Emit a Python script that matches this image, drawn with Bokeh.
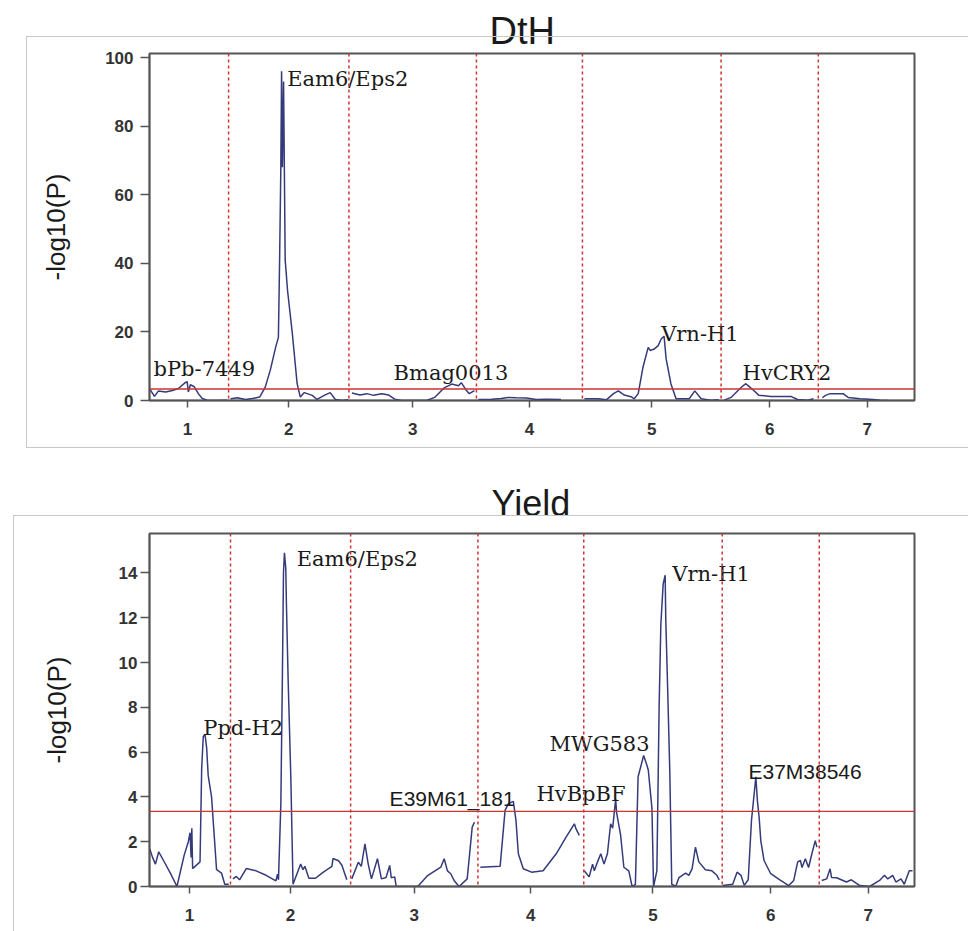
import numpy as np
from bokeh.plotting import figure
from bokeh.layouts import column
from bokeh.models import (Span, FixedTicker, ColumnDataSource, Range1d,
                          CustomJSTickFormatter, InlineStyleSheet)
from bokeh.core.properties import value
from bokeh.embed import file_html
from bokeh.resources import INLINE

# ---------------- data ----------------
chromosomes = ["1", "2", "3", "4", "5", "6", "7"]
chrom_len_cm = [103, 151, 160, 133, 174, 122, 123]
threshold = 3.35

# DtH: positions (cM within chromosome) and -log10(P), one list per chromosome
dth_cm = [
    [4, 10, 15, 24, 32.5, 40, 49, 51, 52.5, 55, 60, 65, 70, 76, 89, 101],
    [2.5, 11, 21, 30, 39, 46, 52.5, 59, 62.5, 64, 65.5, 66.5, 67.5, 69, 71, 74, 80, 86, 90, 95, 105, 111, 120, 127.5, 134, 142.5, 150],
    [3.75, 14, 22.5, 31, 41, 50, 57.5, 66, 97.5, 107.5, 119, 129, 137.5, 141, 147.5, 151, 157.5],
    [2.5, 19, 31, 40, 50, 62.5, 75, 87.5, 106],
    [2.5, 20, 30, 39, 45, 52.5, 61, 65, 70, 76, 82.5, 85, 90, 95, 99, 102.5, 105, 111, 117.5, 134, 141, 149, 161, 171],
    [4, 12.5, 25, 31, 35, 41, 47.5, 62.5, 87.5, 96, 109, 116],
    [5, 9, 15, 31, 37.5, 52.5, 69, 77.5, 87.5],
]
dth_logp = [
    [3.4, 1.2, 2.8, 2.5, 2.9, 3.5, 5.3, 5.5, 2.5, 4.6, 4.0, 2.0, 0.6, 0.1, 0.0, 0.1],
    [0.5, 0.8, 0.3, 0.6, 1.0, 3.9, 9.0, 15.5, 18.4, 40.8, 67, 96, 68, 93, 41, 32, 19.5, 4.9, 1.0, 2.3, 1.5, 0.3, 1.5, 2.3, 0.3, 0.0, 0.2],
    [2.2, 1.6, 2.0, 1.5, 2.0, 1.6, 0.4, 0.0, 0.0, 0.9, 3.6, 4.8, 4.3, 5.2, 2.9, 2.0, 2.9],
    [0.3, 0.4, 0.6, 0.9, 0.8, 0.7, 0.3, 0.4, 0.3],
    [0.5, 0.5, 0.2, 2.0, 2.8, 1.6, 1.1, 0.5, 2.0, 9.7, 15.5, 14.6, 15.0, 16.0, 18.0, 18.7, 12.2, 4.9, 0.5, 0.5, 2.8, 0.5, 0.1, 0.2],
    [0.1, 0.9, 3.8, 4.9, 4.1, 2.9, 1.5, 1.2, 1.2, 0.3, 0.1, 0.5],
    [0.8, 1.5, 2.0, 2.0, 0.9, 0.5, 0.3, 0.1, 0.0],
]

# Yield
yield_cm = [
    [1.6, 5, 8.7, 12.8, 19, 27.4, 35.7, 44.8, 50, 52.2, 53.5, 54.4, 55.4, 64.7, 66.8, 68.8, 70.9, 73, 75, 79.2, 85.5, 91.7, 95.8, 100.8],
    [3.1, 7.3, 11.4, 19.8, 32.2, 44.7, 57.1, 59.1, 60.3, 63.3, 65.3, 66.6, 67.8, 69.5, 70.3, 72.4, 75.8, 78.6, 88.2, 91.1, 93.5, 98.5, 106.9, 115, 121.3, 127.5, 128.8, 135.8, 140, 146.2],
    [1.4, 9.7, 13.4, 18, 22.1, 26.2, 33.7, 38.7, 44.5, 49.1, 51.1, 55.4, 57.3, 84.3, 96.8, 113.3, 117.6, 121.7, 125.8, 130, 136.3, 146.5, 152.8, 155.6],
    [3, 27.9, 34.1, 38.3, 44.5, 47.8, 50.8, 57, 67.3, 81.9, 98.4, 110.8, 121.2, 123.3, 127.4],
    [0.6, 6.8, 11.1, 13.3, 17.3, 21.4, 25.5, 29.7, 33.8, 36.3, 40.1, 41.3, 46.3, 50.4, 56.6, 60.8, 64.9, 68.3, 75.3, 79.5, 81.1, 85.7, 87.7, 91.9, 94.8, 96.9, 99.8, 102.3, 103.1, 105.1, 108.1, 110.6, 115.6, 119.7, 128, 132.1, 136.2, 140.4, 144.6, 152.9, 161.1, 167.3, 170.3],
    [0.7, 13.2, 18.7, 23.6, 27.7, 32.7, 36.8, 40.2, 42.3, 44.3, 46.4, 48.5, 52.6, 61, 73.4, 83.7, 89.9, 94.9, 98.3, 100.3, 104.5, 108.6, 112.7, 117, 119],
    [3.1, 9.3, 13.6, 15.5, 21.8, 34.2, 40.4, 50.9, 63.3, 75.8, 82, 86.1, 92.3, 96.4, 102.7, 106.9, 113.1, 117.2],
]
yield_logp = [
    [1.68, 1.3, 1.0, 1.55, 1.15, 0.6, 0.0, 1.4, 2.0, 2.4, 1.3, 2.6, 0.8, 1.1, 5.3, 6.7, 6.8, 6.2, 4.95, 4.0, 0.75, 0.6, 0.1, 0.1],
    [0.34, 0.45, 0.3, 0.8, 0.7, 0.5, 0.25, 0.55, 0.3, 3.7, 9.6, 14.0, 14.9, 14.2, 12.6, 9.3, 4.9, 0.1, 1.0, 0.75, 0.9, 0.37, 0.37, 0.6, 0.75, 0.9, 1.25, 1.15, 0.95, 0.3],
    [0.34, 1.08, 0.9, 1.9, 1.0, 0.34, 1.24, 0.34, 0.4, 0.94, 0.39, 0.43, 0.0, 0.0, 0.49, 0.86, 1.24, 0.7, 0.57, 0.27, 0.0, 0.34, 2.65, 2.87],
    [0.86, 0.9, 3.4, 3.7, 3.8, 2.95, 1.46, 0.79, 0.64, 0.7, 1.46, 2.2, 2.8, 2.57, 2.28],
    [0.7, 0.43, 1.0, 0.7, 1.1, 1.46, 1.0, 1.46, 2.8, 2.6, 3.9, 3.3, 2.3, 0.86, 0.7, 0.0, 0.1, 4.9, 5.85, 5.4, 5.2, 3.5, 0.0, 0.7, 8.15, 11.7, 13.5, 13.9, 11.9, 9.3, 5.2, 0.1, 0.0, 0.4, 0.6, 0.5, 0.8, 1.76, 1.1, 0.75, 0.7, 0.5, 0.3],
    [0.05, 0.1, 0.64, 0.5, 0.05, 0.3, 2.95, 4.14, 4.9, 3.8, 3.1, 2.05, 1.16, 0.57, 0.27, 0.04, 0.27, 1.1, 1.16, 0.85, 1.24, 0.85, 1.46, 2.05, 1.76],
    [0.27, 0.34, 0.79, 0.4, 0.39, 0.2, 0.3, 0.04, 0.0, 0.27, 0.5, 0.34, 0.5, 0.2, 0.34, 0.1, 0.7, 0.7],
]

# gene labels
dth_label_text = ["bPb-7449", "Eam6/Eps2", "Bmag0013", "Vrn-H1", "HvCRY2"]
dth_label_chrom = [1, 2, 3, 5, 6]
dth_label_cm = [8.8, 73.5, 56, 98.8, 27]
dth_label_y = [9.3, 93.8, 8.1, 19.4, 8.0]
dth_label_font = ["serif", "serif", "serif", "serif", "serif"]

yield_label_text = ["Ppd-H2", "Eam6/Eps2", "E39M61_181", "HvBpBF", "MWG583", "Vrn-H1", "E37M38546"]
yield_label_chrom = [1, 2, 3, 4, 4, 5, 6]
yield_label_cm = [68.8, 83.2, 49, 73.6, 90, 111.3, 33]
yield_label_y = [7.08, 14.63, 3.94, 4.14, 6.34, 13.96, 5.15]
yield_label_font = ["serif", "serif", "sans", "serif", "serif", "serif", "sans"]

# ---------------- helpers ----------------
offsets = np.concatenate([[0.0], np.cumsum(chrom_len_cm)[:-1]])
boundaries = list(np.cumsum(chrom_len_cm)[:-1].astype(float))
centers = [float(o + l / 2.0) for o, l in zip(offsets, chrom_len_cm)]

LINE = "#353b7a"
RED = "#cc3333"
GRAY = "#555555"
FONTS = {"serif": "DejaVu Serif", "sans": "Liberation Sans"}


def make_panel(title, cm_lists, logp_lists, l_text, l_chrom, l_cm, l_y, l_font,
               height, x_rng, y_rng, y_ticks, borders, box, title_offset, title_size,
               title_standoff, ytick_standoff, ylabel_standoff):
    p = figure(width=968, height=height, output_backend="svg", toolbar_location=None,
               x_range=Range1d(*x_rng), y_range=Range1d(*y_rng),
               min_border_left=borders[0], min_border_right=borders[1],
               min_border_top=borders[2], min_border_bottom=borders[3])
    p.background_fill_color = "white"
    p.border_fill_color = "white"
    p.xgrid.visible = False
    p.ygrid.visible = False
    p.outline_line_color = GRAY
    p.outline_line_width = 2

    # title
    p.title.text = title
    p.title.align = "left"
    p.title.offset = title_offset
    p.title.standoff = title_standoff
    p.title.text_font = "Liberation Sans"
    p.title.text_font_style = "normal"
    p.title.text_font_size = title_size
    p.title.text_color = "#1a1a1a"

    # outer light-gray frame around the panel (page decoration)
    css = (":host { position: relative; overflow: hidden; }\n"
           ":host::after { content: ''; position: absolute; pointer-events: none; "
           "box-sizing: border-box; z-index: 5; "
           f"left: {box[0]}px; top: {box[1]}px; width: {box[2]}px; height: {box[3]}px; "
           "border: 1px solid #c8c8c8; }")
    p.stylesheets = [InlineStyleSheet(css=css)]

    # chromosome boundaries and threshold
    for b in boundaries:
        p.add_layout(Span(location=b, dimension="height", line_color=RED,
                          line_dash="3 3", line_width=1.5))
    p.add_layout(Span(location=threshold, dimension="width", line_color=RED,
                      line_width=1.3))

    xs = [list(offsets[i] + np.array(cm)) for i, cm in enumerate(cm_lists)]
    p.multi_line(xs=xs, ys=logp_lists, line_color=LINE, line_width=1.5)

    for fam in ("serif", "sans"):
        idx = [i for i, f in enumerate(l_font) if f == fam]
        if not idx:
            continue
        src = ColumnDataSource(dict(
            x=[offsets[l_chrom[i] - 1] + l_cm[i] for i in idx],
            y=[l_y[i] for i in idx],
            t=[l_text[i] for i in idx]))
        p.text(x="x", y="y", text="t", source=src, text_font=value(FONTS[fam]),
               text_font_size="21px", text_color="#1a1a1a",
               text_align="left", text_baseline="alphabetic")

    # axes
    p.xaxis.ticker = FixedTicker(ticks=centers)
    p.xaxis.formatter = CustomJSTickFormatter(
        args=dict(centers=centers, names=chromosomes),
        code="""
        for (let i = 0; i < centers.length; i++) {
            if (Math.abs(centers[i] - tick) < 1e-6) return names[i];
        }
        return '';
        """)
    p.yaxis.ticker = FixedTicker(ticks=y_ticks)
    for ax in (p.xaxis[0], p.yaxis[0]):
        ax.axis_line_color = GRAY
        ax.axis_line_width = 1.5
        ax.major_tick_line_color = GRAY
        ax.major_tick_line_width = 1.5
        ax.major_tick_in = 0
        ax.minor_tick_line_color = None
        ax.major_label_text_font = "Liberation Sans"
        ax.major_label_text_font_style = "bold"
        ax.major_label_text_font_size = "17px"
        ax.major_label_text_color = "#333333"
    p.xaxis.major_tick_out = 7
    p.xaxis.major_label_standoff = 15
    p.yaxis.major_tick_out = 9
    p.yaxis.major_label_standoff = ytick_standoff
    p.yaxis.axis_label = "-log10(P)"
    p.yaxis.axis_label_text_font = "Liberation Sans"
    p.yaxis.axis_label_text_font_style = "normal"
    p.yaxis.axis_label_text_font_size = "26px"
    p.yaxis.axis_label_text_color = "#1a1a1a"
    p.yaxis.axis_label_standoff = ylabel_standoff
    return p


top = make_panel("DtH", dth_cm, dth_logp, dth_label_text, dth_label_chrom, dth_label_cm,
                 dth_label_y, dth_label_font,
                 height=470, x_rng=(3.75, 963.7), y_rng=(0, 101.2),
                 y_ticks=[0, 20, 40, 60, 80, 100], borders=(147, 54, 53, 70),
                 box=(26, 36, 960, 412), title_offset=340, title_size="38px",
                 title_standoff=4, ytick_standoff=7, ylabel_standoff=31)

bottom = make_panel("Yield", yield_cm, yield_logp, yield_label_text, yield_label_chrom,
                    yield_label_cm, yield_label_y, yield_label_font,
                    height=461, x_rng=(1.2, 962.7), y_rng=(0, 15.76),
                    y_ticks=[0, 2, 4, 6, 8, 10, 12, 14], borders=(149, 46, 63, 45),
                    box=(13, 45, 970, 500), title_offset=342, title_size="36px",
                    title_standoff=20, ytick_standoff=3, ylabel_standoff=44)

layout = column(top, bottom, spacing=0)
open("out.html", "w").write(file_html(layout, INLINE))
